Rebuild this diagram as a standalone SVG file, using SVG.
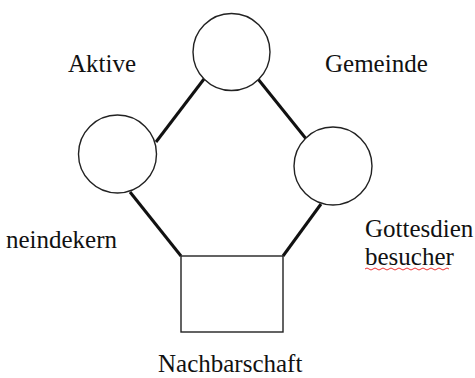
<svg xmlns="http://www.w3.org/2000/svg" width="475" height="378" viewBox="0 0 475 378">
<style>
.node{fill:#fff;stroke:#222;stroke-width:1.4}
.conn{stroke:#111;stroke-width:3;fill:none;stroke-linecap:butt}
.lbl{font-family:"Liberation Serif","Times New Roman",serif;font-size:25px;fill:#111}
</style>
<rect width="475" height="378" fill="#fff"/>
<g id="connectors">
<line class="conn" x1="204" y1="79" x2="156" y2="142"/>
<line class="conn" x1="258" y1="79" x2="307" y2="140"/>
<line class="conn" x1="130" y1="192" x2="181" y2="256"/>
<line class="conn" x1="321" y1="204" x2="283" y2="256"/>
</g>
<g id="top-node"><circle class="node" cx="231.5" cy="52" r="38.5"/></g>
<g id="left-node"><circle class="node" cx="117.5" cy="154" r="39"/></g>
<g id="right-node"><circle class="node" cx="333" cy="166" r="39"/></g>
<g id="bottom-node"><rect class="node" x="181" y="256" width="102" height="76"/></g>
<g id="labels">
<text class="lbl" x="68" y="72">Aktive</text>
<text class="lbl" x="325" y="72">Gemeinde</text>
<text class="lbl" x="117" y="248" text-anchor="end">neindekern</text>
<text class="lbl" x="365" y="237">Gottesdien</text>
<text class="lbl" x="365" y="265">besucher</text>
<path d="M365 269 q2 -2 4 0 t4 0 t4 0 t4 0 t4 0 t4 0 t4 0 t4 0 t4 0 t4 0 t4 0 t4 0 t4 0 t4 0 t4 0 t4 0 t4 0 t4 0 t4 0 t4 0 t4 0" fill="none" stroke="#e33" stroke-width="1"/>
<text class="lbl" x="158" y="372">Nachbarschaft</text>
</g>
</svg>
